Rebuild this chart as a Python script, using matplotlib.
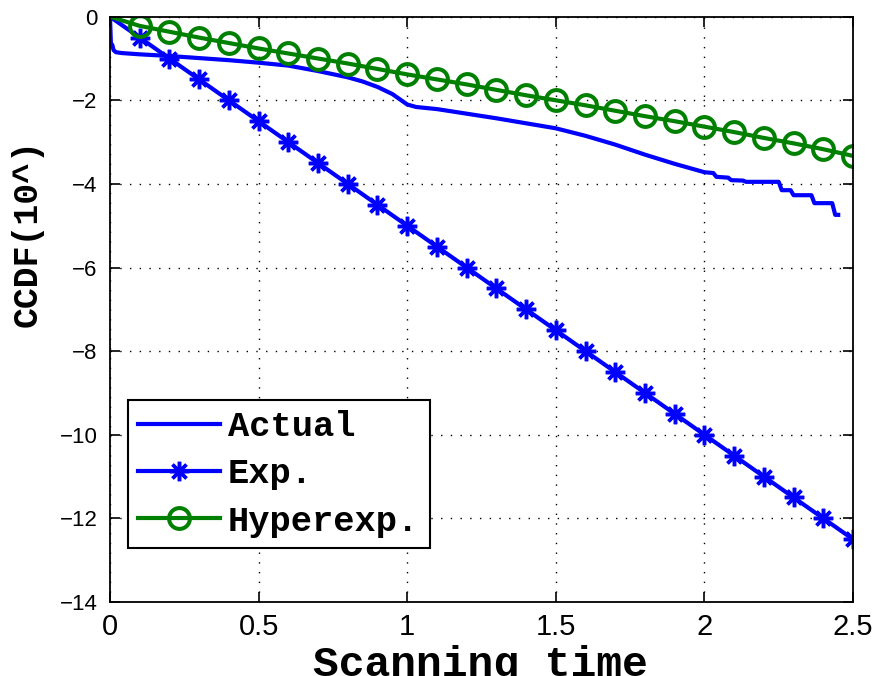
import matplotlib
matplotlib.use("Agg")
import matplotlib.pyplot as plt

# scanning time grid used for the two fitted models
model_x = [0.0, 0.1, 0.2, 0.3, 0.4, 0.5, 0.6, 0.7, 0.8, 0.9, 1.0, 1.1, 1.2,
           1.3, 1.4, 1.5, 1.6, 1.7, 1.8, 1.9, 2.0, 2.1, 2.2, 2.3, 2.4, 2.5]
exp_y = [0.0, -0.5, -1.0, -1.5, -2.0, -2.5, -3.0, -3.5, -4.0, -4.5, -5.0,
         -5.5, -6.0, -6.5, -7.0, -7.5, -8.0, -8.5, -9.0, -9.5, -10.0, -10.5,
         -11.0, -11.5, -12.0, -12.5]
hyper_y = [0.0, -0.22, -0.36, -0.50, -0.63, -0.76, -0.88, -1.00, -1.12, -1.25,
           -1.38, -1.50, -1.62, -1.75, -1.88, -2.00, -2.12, -2.25, -2.38, -2.50,
           -2.63, -2.76, -2.90, -3.03, -3.17, -3.33]

actual_x = [0.0, 0.003, 0.008, 0.012, 0.02, 0.04, 0.1, 0.2, 0.3, 0.4, 0.5,
            0.6, 0.7, 0.8, 0.85, 0.9, 0.95, 0.98, 1.0, 1.03, 1.1, 1.2, 1.3,
            1.4, 1.5, 1.6, 1.7, 1.8, 1.9, 2.0, 2.03, 2.04, 2.08, 2.09, 2.13,
            2.14, 2.25, 2.26, 2.29, 2.30, 2.36, 2.37, 2.43, 2.44, 2.45]
actual_y = [0.0, -0.63, -0.68, -0.80, -0.85, -0.87, -0.90, -0.94, -0.99,
            -1.04, -1.10, -1.17, -1.30, -1.45, -1.55, -1.68, -1.85, -2.00,
            -2.10, -2.16, -2.21, -2.32, -2.43, -2.55, -2.67, -2.85, -3.06,
            -3.30, -3.52, -3.72, -3.74, -3.83, -3.85, -3.91, -3.92, -3.95,
            -3.95, -4.15, -4.15, -4.27, -4.27, -4.46, -4.46, -4.74, -4.74]

blue = (0, 0, 1)
green = (0, 0.5, 0)

fig = plt.figure(figsize=(8.75, 6.76), dpi=100)
ax = fig.add_axes([0.1257, 0.1095, 0.8492, 0.8658])

ax.plot(actual_x, actual_y, color=blue, lw=3, label="Actual")
ax.plot(model_x, exp_y, color=blue, lw=3, marker=(8, 2, 0), ms=14, mew=2.5,
        markevery=list(range(1, len(model_x))), label="Exp.")
ax.plot(model_x, hyper_y, color=green, lw=3, marker="o", ms=15, mew=2.9,
        mfc="none", markevery=list(range(1, len(model_x))), label="Hyperexp.")

ax.set_xlim(0, 2.5)
ax.set_ylim(-14, 0)
ax.set_xticks([0, 0.5, 1, 1.5, 2, 2.5])
ax.set_xticklabels(["0", "0.5", "1", "1.5", "2", "2.5"])
ax.set_yticks(range(-14, 1, 2))
ax.set_yticklabels(["\u221214", "\u221212", "\u221210", "\u22128", "\u22126",
                    "\u22124", "\u22122", "0"])

ax.grid(True, color="black", linestyle=(0, (1, 6)), linewidth=1.0)
ax.tick_params(direction="in", length=7, width=1.2, top=True, right=True)
ax.tick_params(axis="x", pad=8, labelsize=21)
ax.tick_params(axis="y", pad=9, labelsize=16)
for lab in ax.get_xticklabels() + ax.get_yticklabels():
    lab.set_fontfamily("Liberation Sans")
for sp in ax.spines.values():
    sp.set_linewidth(1.3)

mono = {"family": "Liberation Mono", "weight": "bold"}
ax.set_xlabel("Scanning time", fontdict=mono, fontsize=31)
ax.xaxis.label.set_va("baseline")
ax.xaxis.set_label_coords(0.498, -0.126)
ax.set_ylabel("CCDF(10^)", fontdict=mono, fontsize=25)
ax.yaxis.label.set_va("center")
ax.yaxis.set_label_coords(-0.112, 0.63)

leg = ax.legend(loc="lower left", bbox_to_anchor=(0.024, 0.092),
                prop={"family": "Liberation Mono", "weight": "bold", "size": 25.5},
                fancybox=False, framealpha=1, edgecolor="black",
                handlelength=2.3, handletextpad=0.23, labelspacing=0.4,
                borderpad=0.3, borderaxespad=0)
leg.get_frame().set_linewidth(1.5)

fig.savefig("out.png", dpi=100)
